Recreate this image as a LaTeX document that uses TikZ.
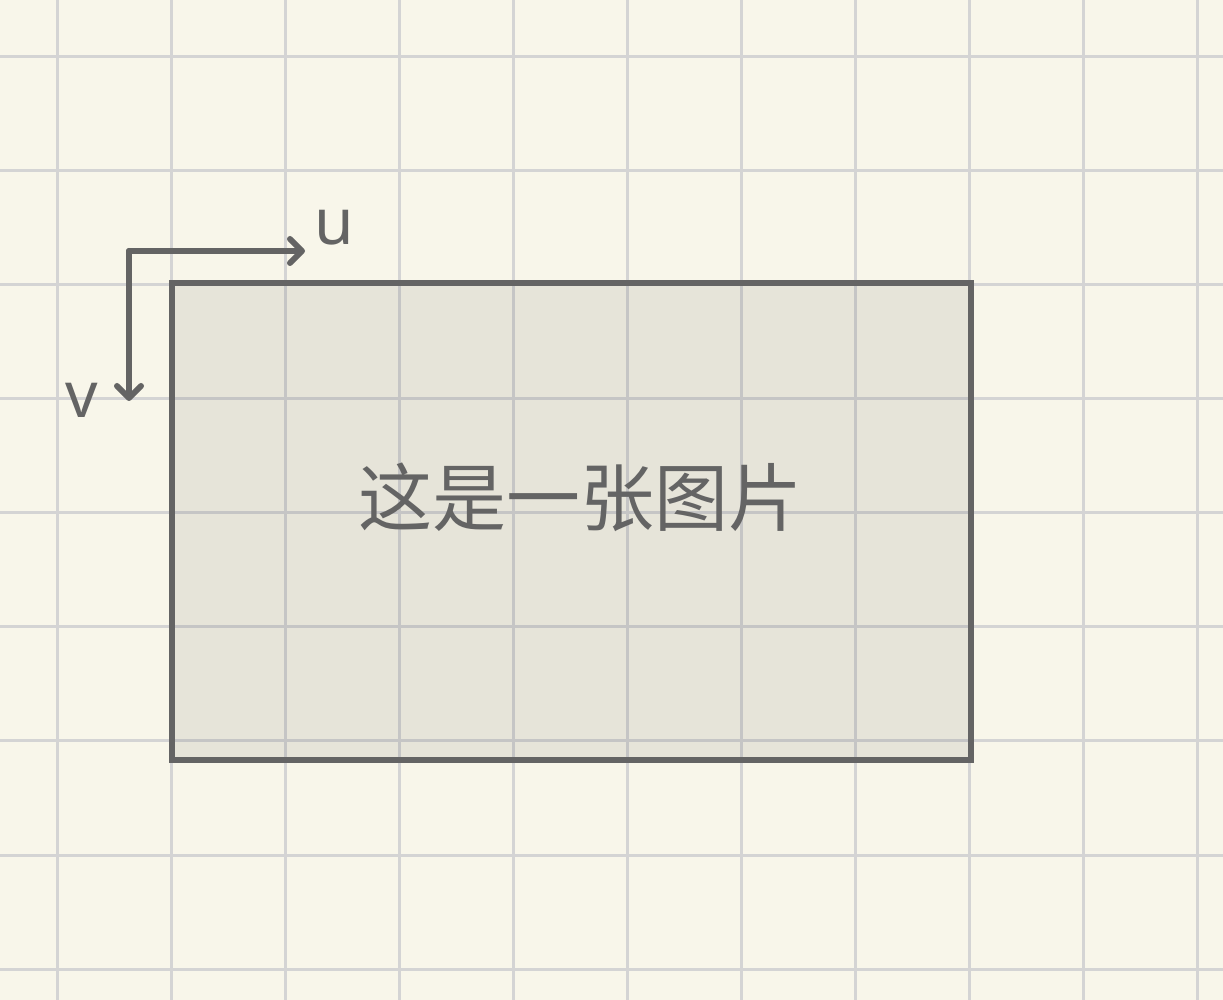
\documentclass[tikz,border=0pt]{standalone}
\usepackage{fontspec}
\setmainfont{Noto Sans}
\newfontfamily\cjk{Noto Sans CJK SC}
\usetikzlibrary{arrows.meta}
\definecolor{bgc}{HTML}{F8F6EA}
\definecolor{gridc}{HTML}{D4D4D4}
\definecolor{inkc}{HTML}{646464}
\tikzset{
  gridline/.style={draw=gridc, line width=1.5pt},
  picbox/.style={draw=inkc, line width=2.6pt, fill=black, fill opacity=0.07, draw opacity=1, outer sep=0pt, inner sep=0pt},
  axis/.style={draw=inkc, line width=3pt, line cap=round, line join=round, -{Straight Barb[length=6pt,width=12pt,line width=3pt,round]}},
  axlabel/.style={text=inkc, font=\fontsize{32}{32}\selectfont},
}
\begin{document}
\begin{tikzpicture}[x=0.5pt,y=-0.5pt]
\fill[bgc] (0,0) rectangle (1223,1000);
\useasboundingbox (0,0) rectangle (1223,1000);
\foreach \i in {0,...,10} { \draw[gridline] ({57+114*\i},0) -- ({57+114*\i},1000); }
\foreach \j in {0,...,8} { \draw[gridline] (0,{57+114*\j}) -- (1223,{57+114*\j}); }
\node[picbox, minimum width=399.5pt, minimum height=238.5pt, anchor=north west] (img) at (172,283) {};
\node[text=inkc, font=\cjk\fontsize{37}{37}\selectfont] (title) at (580,497) {这是一张图片};
\coordinate (o) at (129,251);
\coordinate (ue) at (305,251);
\coordinate (ve) at (129,401);
\draw[axis] (o) -- (ue);
\draw[axis] (o) -- (ve);
\node[axlabel] (u) at (334,228) {u};
\node[axlabel] (v) at (82,400) {v};
\end{tikzpicture}
\end{document}
